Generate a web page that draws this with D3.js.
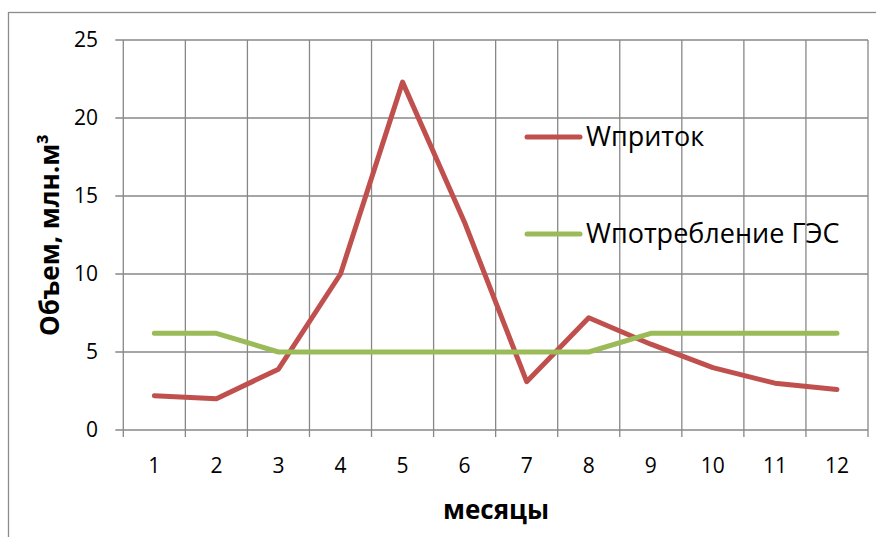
<!DOCTYPE html>
<html><head><meta charset="utf-8">
<script src="https://cdn.jsdelivr.net/npm/d3@7"></script>
<style>body{margin:0;background:#fff}svg{display:block;font-family:"Open Sans",sans-serif}</style>
</head><body>
<svg id="c" width="876" height="537"></svg>
<script>
const months = ["1","2","3","4","5","6","7","8","9","10","11","12"];
const inflow = [2.2, 2.0, 3.9, 10.0, 22.3, 13.3, 3.1, 7.2, 5.5, 4.0, 3.0, 2.6];
const consumption = [6.2, 6.2, 5.0, 5.0, 5.0, 5.0, 5.0, 5.0, 6.2, 6.2, 6.2, 6.2];
const yTicks = [0, 5, 10, 15, 20, 25];
const seriesNames = ["Wприток", "Wпотребление ГЭС"];
const seriesColors = ["#C0504D", "#9BBB59"];

const svg = d3.select("#c");
const L = 123.3, R = 868, T = 40, B = 430;
const x = d3.scaleBand().domain(months).range([L, R]);
const y = d3.scaleLinear().domain([0, 25]).range([B, T]);
const grid = "#878787";

svg.append("rect").attr("x", 8.5).attr("y", 12.5).attr("width", 1000).attr("height", 1000)
  .attr("fill", "none").attr("stroke", "#8c8c8c").attr("stroke-width", 1.3);

// horizontal gridlines
svg.append("g").selectAll("line").data(yTicks).join("line")
  .attr("x1", L - 8).attr("x2", R).attr("y1", d => y(d)).attr("y2", d => y(d))
  .attr("stroke", grid).attr("stroke-width", 1.3);
// vertical gridlines at band boundaries
const bounds = months.map(m => x(m)).concat([R]);
svg.append("g").selectAll("line").data(bounds).join("line")
  .attr("x1", d => d).attr("x2", d => d).attr("y1", T).attr("y2", B + 7)
  .attr("stroke", grid).attr("stroke-width", 1.3);

// y tick labels
svg.append("g").selectAll("text").data(yTicks).join("text")
  .attr("x", 98).attr("y", d => y(d)).attr("dy", "0.35em").attr("text-anchor", "end")
  .attr("font-size", 21).attr("fill", "#000").text(d => d);
// x tick labels
svg.append("g").selectAll("text").data(months).join("text")
  .attr("x", d => x(d) + x.bandwidth() / 2).attr("y", 473).attr("text-anchor", "middle")
  .attr("font-size", 21).attr("fill", "#000").text(d => d);

const line = d3.line().x((d, i) => x(months[i]) + x.bandwidth() / 2).y(d => y(d));
[inflow, consumption].forEach((s, k) => {
  svg.append("path").datum(s).attr("d", line).attr("fill", "none")
    .attr("stroke", seriesColors[k]).attr("stroke-width", 5)
    .attr("stroke-linejoin", "round").attr("stroke-linecap", "round");
});

// legend
const legY = [137, 234];
seriesNames.forEach((n, k) => {
  svg.append("line").attr("x1", 527).attr("x2", 580).attr("y1", legY[k]).attr("y2", legY[k])
    .attr("stroke", seriesColors[k]).attr("stroke-width", 5).attr("stroke-linecap", "round");
  svg.append("text").attr("x", 586).attr("y", legY[k]).attr("dy", "0.35em")
    .attr("font-size", 27).attr("fill", "#000").text(n);
});

// axis titles
svg.append("text").attr("x", 496).attr("y", 519).attr("text-anchor", "middle")
  .attr("font-size", 26).attr("font-weight", "bold").text("месяцы");
svg.append("text").attr("transform", "translate(59,235) rotate(-90)").attr("text-anchor", "middle")
  .attr("font-size", 26).attr("font-weight", "bold").text("Объем, млн.м³");
</script>
</body></html>
